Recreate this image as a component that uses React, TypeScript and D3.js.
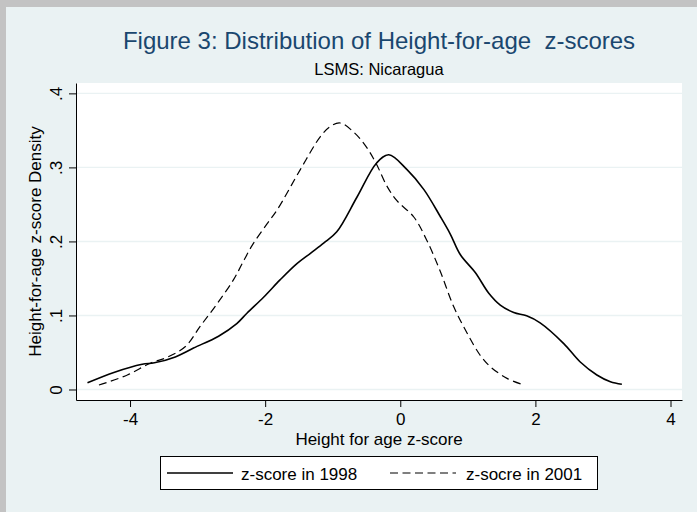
import { useEffect, useRef } from "react";
import * as d3 from "d3";

// values
const xTicks = [-4, -2, 0, 2, 4];
const yTicks = [0, 0.1, 0.2, 0.3, 0.4];

const z1998 = [
  -4.63, -4.24, -3.82, -3.64, -3.33, -3.06, -2.69, -2.42, -2.27, -2.02, -1.78, -1.53, -1.33, -1.13,
  -0.94, -0.64, -0.35, -0.17, 0.1, 0.35, 0.59, 0.74, 0.89, 1.11, 1.31, 1.48, 1.68, 1.87, 2.07, 2.42,
  2.66, 2.91, 3.11, 3.28,
];
const dens1998 = [
  0.009, 0.023, 0.034, 0.036, 0.044, 0.056, 0.072, 0.089, 0.103, 0.125, 0.148, 0.17, 0.184, 0.198,
  0.213, 0.26, 0.306, 0.317, 0.297, 0.27, 0.234, 0.21, 0.182, 0.158, 0.13, 0.114, 0.104, 0.0995, 0.09,
  0.062, 0.0375, 0.0196, 0.0105, 0.007,
];

const z2001 = [
  -4.46, -4.04, -3.7, -3.45, -3.18, -2.96, -2.71, -2.47, -2.34, -2.19, -1.97, -1.82, -1.48, -1.18,
  -1.04, -0.89, -0.67, -0.49, -0.35, -0.2, -0.05, 0.2, 0.39, 0.59, 0.79, 0.99, 1.18, 1.33, 1.58, 1.8,
];
const dens2001 = [
  0.006, 0.0196, 0.0355, 0.0435, 0.058, 0.0855, 0.116, 0.148, 0.17, 0.195, 0.224, 0.243, 0.297, 0.342,
  0.355, 0.36, 0.346, 0.326, 0.304, 0.275, 0.255, 0.233, 0.202, 0.16, 0.112, 0.076, 0.0466, 0.031,
  0.015, 0.007,
];

const seriesNames = ["z-score in 1998", "z-socre in 2001"];

const width = 697;
const height = 512;
const plot = { left: 76, right: 682, top: 83, bottom: 400 };
const font = "'Liberation Sans', Arial, Helvetica, sans-serif";
const bg = "#eaf2f3";
const titleColor = "#1a476f";

export default function App() {
  const svgRef = useRef<SVGSVGElement>(null);

  useEffect(() => {
    if (!svgRef.current) return;
    const svg = d3.select(svgRef.current);
    svg.selectAll("*").remove();

    const x = d3.scaleLinear().domain([-4.8, 4.17]).range([plot.left, plot.right]);
    const y = d3.scaleLinear().domain([-0.0142, 0.414]).range([plot.bottom, plot.top]);
    const cx = (plot.left + plot.right) / 2;

    // frame + graph region
    svg.append("rect").attr("width", width).attr("height", height).attr("fill", "#c3c3c3");
    svg
      .append("rect")
      .attr("x", 6)
      .attr("y", 7)
      .attr("width", width - 6)
      .attr("height", height - 7)
      .attr("fill", bg);

    // plot region
    svg
      .append("rect")
      .attr("x", plot.left)
      .attr("y", plot.top)
      .attr("width", plot.right - plot.left)
      .attr("height", plot.bottom - plot.top)
      .attr("fill", "#fff");

    svg
      .append("g")
      .selectAll("line")
      .data(yTicks)
      .enter()
      .append("line")
      .attr("x1", plot.left)
      .attr("x2", plot.right)
      .attr("y1", (d) => y(d))
      .attr("y2", (d) => y(d))
      .attr("stroke", bg)
      .attr("stroke-width", 1.4);

    // titles
    svg
      .append("text")
      .attr("x", cx)
      .attr("y", 48.5)
      .attr("text-anchor", "middle")
      .attr("font-family", font)
      .attr("font-size", 24)
      .attr("fill", titleColor)
      .style("white-space", "pre")
      .text("Figure 3: Distribution of Height-for-age  z-scores");

    svg
      .append("text")
      .attr("x", cx)
      .attr("y", 75)
      .attr("text-anchor", "middle")
      .attr("font-family", font)
      .attr("font-size", 16.5)
      .attr("fill", "#000")
      .text("LSMS: Nicaragua");

    // y axis
    const yAxis = d3
      .axisLeft(y)
      .tickValues(yTicks)
      .tickSize(7)
      .tickSizeOuter(0)
      .tickFormat((d) => (+d === 0 ? "0" : d3.format(".1f")(+d).replace(/^0/, "")));
    const gy = svg.append("g").attr("transform", `translate(${plot.left},0)`).call(yAxis);
    gy.attr("font-family", font).attr("font-size", 17);
    gy.selectAll("path, line").attr("stroke", "#000");
    gy.selectAll("text")
      .attr("x", null)
      .attr("dy", null)
      .attr("text-anchor", "middle")
      .attr("fill", "#000")
      .attr("transform", "translate(-14,0) rotate(-90)");

    svg
      .append("text")
      .attr("transform", `translate(41,${(plot.top + plot.bottom) / 2}) rotate(-90)`)
      .attr("text-anchor", "middle")
      .attr("font-family", font)
      .attr("font-size", 17)
      .text("Height-for-age z-score Density");

    // x axis
    const xAxis = d3
      .axisBottom(x)
      .tickValues(xTicks)
      .tickSize(7)
      .tickSizeOuter(0)
      .tickFormat((d) => String(d));
    const gx = svg.append("g").attr("transform", `translate(0,${plot.bottom})`).call(xAxis);
    gx.attr("font-family", font).attr("font-size", 17);
    gx.selectAll("path, line").attr("stroke", "#000");
    gx.selectAll("text").attr("y", 25).attr("dy", null).attr("fill", "#000");

    svg
      .append("text")
      .attr("x", cx)
      .attr("y", 445)
      .attr("text-anchor", "middle")
      .attr("font-family", font)
      .attr("font-size", 17)
      .text("Height for age z-score");

    // density curves
    const line = d3
      .line<[number, number]>()
      .x((d) => x(d[0]))
      .y((d) => y(d[1]))
      .curve(d3.curveCatmullRom.alpha(0.5));

    svg
      .append("path")
      .attr("d", line(d3.zip(z1998, dens1998) as [number, number][]))
      .attr("fill", "none")
      .attr("stroke", "#000")
      .attr("stroke-width", 1.6);

    svg
      .append("path")
      .attr("d", line(d3.zip(z2001, dens2001) as [number, number][]))
      .attr("fill", "none")
      .attr("stroke", "#000")
      .attr("stroke-width", 1.2)
      .attr("stroke-dasharray", "8,4.5");

    // legend
    const lg = svg.append("g").attr("font-family", font).attr("font-size", 17);
    lg.append("rect")
      .attr("x", 160.5)
      .attr("y", 456.5)
      .attr("width", 437)
      .attr("height", 33)
      .attr("fill", "#fff")
      .attr("stroke", "#000");
    const keys = [
      { x1: 167, x2: 233, tx: 241, dash: null, w: 1.6 },
      { x1: 390, x2: 456, tx: 466, dash: "8,4.5", w: 1.2 },
    ];
    keys.forEach((k, i) => {
      lg.append("line")
        .attr("x1", k.x1)
        .attr("x2", k.x2)
        .attr("y1", 473)
        .attr("y2", 473)
        .attr("stroke", "#000")
        .attr("stroke-width", k.w)
        .attr("stroke-dasharray", k.dash);
      lg.append("text").attr("x", k.tx).attr("y", 479.5).text(seriesNames[i]);
    });
  }, []);

  return (
    <svg
      ref={svgRef}
      width={width}
      height={height}
      style={{ position: "absolute", left: 0, top: 0, display: "block" }}
    />
  );
}
